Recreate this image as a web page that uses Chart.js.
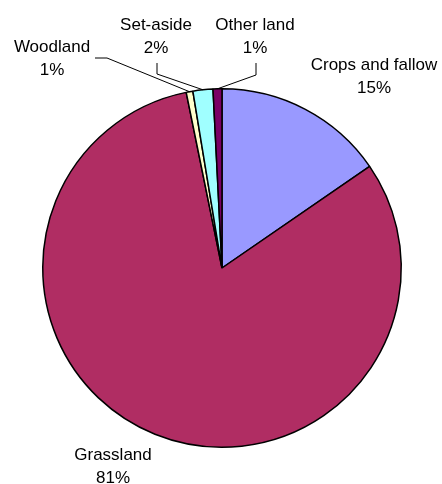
<!DOCTYPE html>
<html>
<head>
<meta charset="utf-8">
<script src="https://cdn.jsdelivr.net/npm/chart.js@4/dist/chart.umd.min.js"></script>
<style>
  html, body { margin: 0; padding: 0; background: #fff; }
  #wrap { width: 442px; height: 484px; position: relative; }
</style>
</head>
<body>
<div id="wrap"><canvas id="c" width="442" height="484"></canvas></div>
<script>
// ---- data ----
const categories = ["Crops and fallow", "Grassland", "Woodland", "Set-aside", "Other land"];
const shares = [15.4, 81.4, 0.6, 1.8, 0.8];
const percentLabels = ["15%", "81%", "1%", "2%", "1%"];
const sliceColors = ["#9999FF", "#B02D63", "#FFFFCC", "#A0FFFF", "#7A0066"];

// ---- label placement (text centre, optional leader elbow points) ----
const labelPlacement = [
  { x: 374, y: 65, leader: null },
  { x: 113, y: 455, leader: null },
  { x: 52,  y: 47, leader: [[95, 58], [107, 58]] },
  { x: 156, y: 25, leader: [[157, 63], [157, 74]] },
  { x: 255, y: 25, leader: [[256, 63], [256, 75]] }
];

const labelPlugin = {
  id: 'pieLabels',
  afterDatasetsDraw(chart) {
    const ctx = chart.ctx;
    const meta = chart.getDatasetMeta(0);
    ctx.save();
    ctx.font = '17px "Liberation Sans", Arial, sans-serif';
    ctx.fillStyle = '#000';
    ctx.textAlign = 'center';
    ctx.textBaseline = 'middle';
    meta.data.forEach((arc, i) => {
      const p = labelPlacement[i];
      ctx.fillText(categories[i], p.x, p.y);
      ctx.fillText(percentLabels[i], p.x, p.y + 23);
      if (p.leader) {
        const mid = (arc.startAngle + arc.endAngle) / 2;
        const ex = arc.x + Math.cos(mid) * arc.outerRadius;
        const ey = arc.y + Math.sin(mid) * arc.outerRadius;
        ctx.beginPath();
        ctx.strokeStyle = '#000';
        ctx.lineWidth = 1;
        ctx.moveTo(p.leader[0][0], p.leader[0][1]);
        for (let k = 1; k < p.leader.length; k++) ctx.lineTo(p.leader[k][0], p.leader[k][1]);
        ctx.lineTo(ex, ey);
        ctx.stroke();
      }
    });
    ctx.restore();
  }
};

new Chart(document.getElementById('c'), {
  type: 'pie',
  data: {
    labels: categories,
    datasets: [{
      data: shares,
      backgroundColor: sliceColors,
      borderColor: '#000',
      borderWidth: 1.5
    }]
  },
  options: {
    responsive: false,
    animation: false,
    devicePixelRatio: 1,
    layout: { padding: { top: 88, bottom: 36, left: 42, right: 40 } },
    plugins: {
      legend: { display: false },
      tooltip: { enabled: false }
    }
  },
  plugins: [labelPlugin]
});
</script>
</body>
</html>
